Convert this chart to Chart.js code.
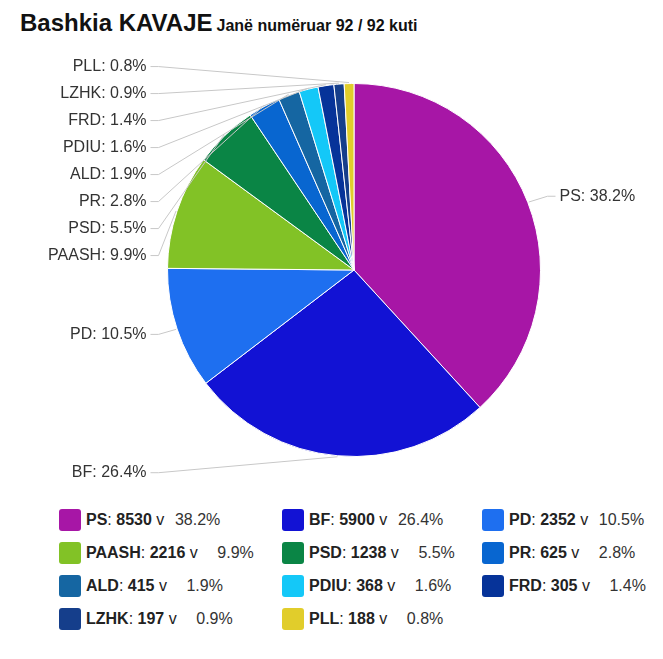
<!DOCTYPE html>
<html>
<head>
<meta charset="utf-8">
<script src="https://cdn.jsdelivr.net/npm/chart.js@4"></script>
<style>
  body { margin: 0; background: #fff; font-family: "Liberation Sans", Arial, sans-serif; }
  #wrap { position: relative; width: 663px; height: 659px; }
  #title { position: absolute; left: 20px; top: 9px; white-space: nowrap; color: #111; }
  #title .main { font-size: 24px; font-weight: bold; }
  #title .sub { font-size: 16px; font-weight: bold; margin-left: 4px; }
  canvas { position: absolute; left: 0; top: 0; }
  .leg { position: absolute; height: 22px; font-size: 16px; color: #222; white-space: nowrap; }
  .leg .box { position: absolute; left: 0; top: 0; width: 22px; height: 22px; border-radius: 3px; }
  .leg .txt { position: absolute; left: 27px; top: 2px; }
  .leg .pct { display: inline-block; width: 56px; text-align: right; color: #333; }
</style>
</head>
<body>
<div id="wrap">
  <div id="title"><span class="main">Bashkia KAVAJE</span><span class="sub">Janë numëruar 92 / 92 kuti</span></div>
  <canvas id="myChart" width="663" height="490"></canvas>
  <div id="legend"></div>
</div>
<script>
// parties, votes and colours
const parties = ['PS', 'BF', 'PD', 'PAASH', 'PSD', 'PR', 'ALD', 'PDIU', 'FRD', 'LZHK', 'PLL'];
const votes = [8530, 5900, 2352, 2216, 1238, 625, 415, 368, 305, 197, 188];
const percents = [38.2, 26.4, 10.5, 9.9, 5.5, 2.8, 1.9, 1.6, 1.4, 0.9, 0.8];
const colors = ['#a716a6', '#1212d4', '#1e6ff0', '#82c226', '#0a8545', '#0866d0',
                '#1566a2', '#14c8f8', '#063399', '#153e8b', '#e1cd2b'];

// outside labels with connector lines
const outLabels = {
  id: 'outLabels',
  afterDraw(chart) {
    const ctx = chart.ctx;
    const arcs = chart.getDatasetMeta(0).data;
    const left = [], right = [];
    arcs.forEach((arc, i) => {
      const p = arc.getProps(['x', 'y', 'startAngle', 'endAngle', 'outerRadius'], true);
      const a = (p.startAngle + p.endAngle) / 2;
      const item = {
        i: i, cx: p.x, cy: p.y, r: p.outerRadius, a: a,
        y: p.y + (p.outerRadius + 17) * Math.sin(a)
      };
      (Math.cos(a) >= 0 ? right : left).push(item);
    });
    [left, right].forEach(list => {
      list.sort((m, n) => m.y - n.y);
      for (let k = 1; k < list.length; k++) {
        if (list[k].y < list[k - 1].y + 27) list[k].y = list[k - 1].y + 27;
      }
    });
    ctx.save();
    ctx.font = '16px "Liberation Sans", Arial, sans-serif';
    ctx.textBaseline = 'middle';
    const draw = (it, isLeft) => {
      const ex = it.cx + (it.r + 1) * Math.cos(it.a);
      const ey = it.cy + (it.r + 1) * Math.sin(it.a);
      const ax = isLeft ? it.cx - it.r - 17 : it.cx + it.r + 15;
      ctx.strokeStyle = '#c8c8c8';
      ctx.lineWidth = 1;
      ctx.beginPath();
      ctx.moveTo(ax, it.y);
      ctx.lineTo(ax + (isLeft ? 8 : -8), it.y);
      ctx.lineTo(ex, ey);
      ctx.stroke();
      ctx.fillStyle = '#333';
      ctx.textAlign = isLeft ? 'right' : 'left';
      const txt = parties[it.i] + ': ' + percents[it.i].toFixed(1) + '%';
      ctx.fillText(txt, ax + (isLeft ? -4 : 4), it.y);
    };
    left.forEach(it => draw(it, true));
    right.forEach(it => draw(it, false));
    ctx.restore();
  }
};

const config = {
  type: 'pie',
  data: {
    labels: parties,
    datasets: [{
      data: votes,
      backgroundColor: colors,
      borderColor: '#ffffff',
      borderWidth: 1
    }]
  },
  options: {
    responsive: false,
    animation: false,
    layout: { padding: { left: 167, right: 122, top: 83, bottom: 33 } },
    plugins: {
      legend: { display: false },
      tooltip: { enabled: false },
      title: { display: false }
    }
  },
  plugins: [outLabels]
};

// html legend, three columns
const legend = document.getElementById('legend');
const colX = [59, 282, 482];
parties.forEach((p, i) => {
  const d = document.createElement('div');
  d.className = 'leg';
  d.style.left = colX[i % 3] + 'px';
  d.style.top = (509 + Math.floor(i / 3) * 33) + 'px';
  d.innerHTML = '<span class="box" style="background:' + colors[i] + '"></span>' +
    '<span class="txt"><b>' + p + '</b>: <b>' + votes[i] + '</b> v' +
    '<span class="pct">' + percents[i].toFixed(1) + '%</span></span>';
  legend.appendChild(d);
});

window.onload = function() {
  const ctx = document.getElementById('myChart').getContext('2d');
  new Chart(ctx, config);
};
</script>
</body>
</html>
